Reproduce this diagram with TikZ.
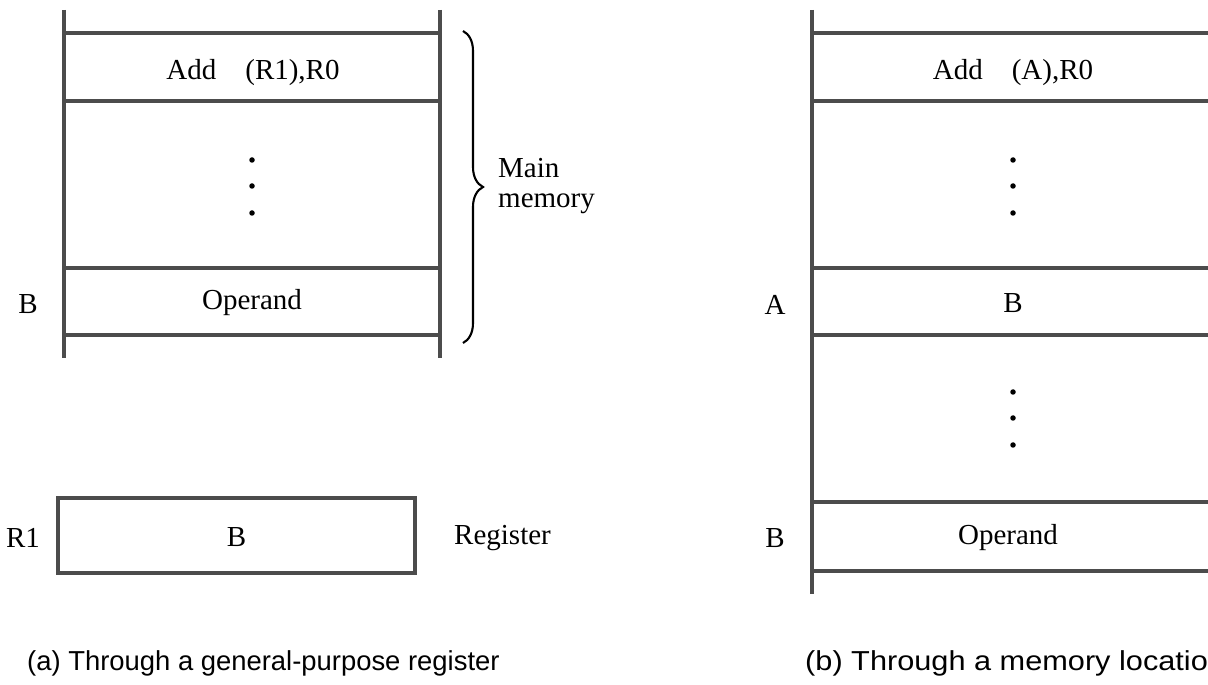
\documentclass[tikz,border=0pt]{standalone}
\usepackage{fontspec}
\setmainfont{Liberation Serif}
\newfontfamily\capfont{Liberation Sans}
\newfontfamily\capfontwide[FakeStretch=1.12]{Liberation Sans}
\usetikzlibrary{decorations.pathreplacing}

\tikzset{
  memline/.style={line width=2pt, black!70},
  lbl/.style={font=\fontsize{16.5}{19}\selectfont},
  captext/.style={font=\capfont\fontsize{15.6}{18}\selectfont, anchor=west},
}

\begin{document}
\begin{tikzpicture}

\useasboundingbox (0,0) rectangle (24.16,13.68);

% (a) Main memory
\draw[memline] (1.28,13.48) -- (1.28,6.52);
\draw[memline] (8.80,13.48) -- (8.80,6.52);
\foreach \y in {13.02, 11.66, 8.32, 6.98}
  \draw[memline] (1.28,\y) -- (8.80,\y);

\node[lbl] (instA) at (5.06,12.22) {Add\quad (R1),R0};
\foreach \y in {10.48, 9.96, 9.42}
  \fill (5.04,\y) circle (0.055);
\node[lbl] (opA) at (5.04,7.62) {Operand};
\node[lbl] (addrB) at (0.56,7.6) {B};

% Brace
\draw[line width=1.2pt, decorate, decoration={brace, amplitude=0.4cm}]
  (9.26,13.06) -- (9.26,6.82);
\node[lbl, anchor=west, align=left] (mainmem) at (9.84,9.96) {Main\\[-2pt]memory};

% Register R1
\draw[memline] (1.16,3.72) rectangle (8.30,2.22);
\node[lbl] (regB) at (4.73,2.94) {B};
\node[lbl] (nameR1) at (0.46,2.92) {R1};
\node[lbl, anchor=west] (register) at (8.96,2.92) {Register};

% Captions
\node[captext] (capA) at (0.42,0.42) {(a) Through a general-purpose register};
\node[captext, font=\capfontwide\fontsize{15.6}{18}\selectfont] (capB) at (15.98,0.42) {(b) Through a memory location};

% (b) Main memory
\draw[memline] (16.24,13.48) -- (16.24,1.80);
\draw[memline] (24.28,13.48) -- (24.28,1.80);
\foreach \y in {13.02, 11.66, 8.32, 6.98, 3.64, 2.26}
  \draw[memline] (16.24,\y) -- (24.28,\y);

\node[lbl] (instB) at (20.26,12.22) {Add\quad (A),R0};
\foreach \y in {10.48, 9.96, 9.42, 5.84, 5.32, 4.78}
  \fill (20.26,\y) circle (0.055);
\node[lbl] (ptrB) at (20.26,7.62) {B};
\node[lbl] (opB) at (20.16,2.92) {Operand};
\node[lbl] (addrA) at (15.5,7.58) {A};
\node[lbl] (addrBb) at (15.5,2.92) {B};

\end{tikzpicture}
\end{document}
